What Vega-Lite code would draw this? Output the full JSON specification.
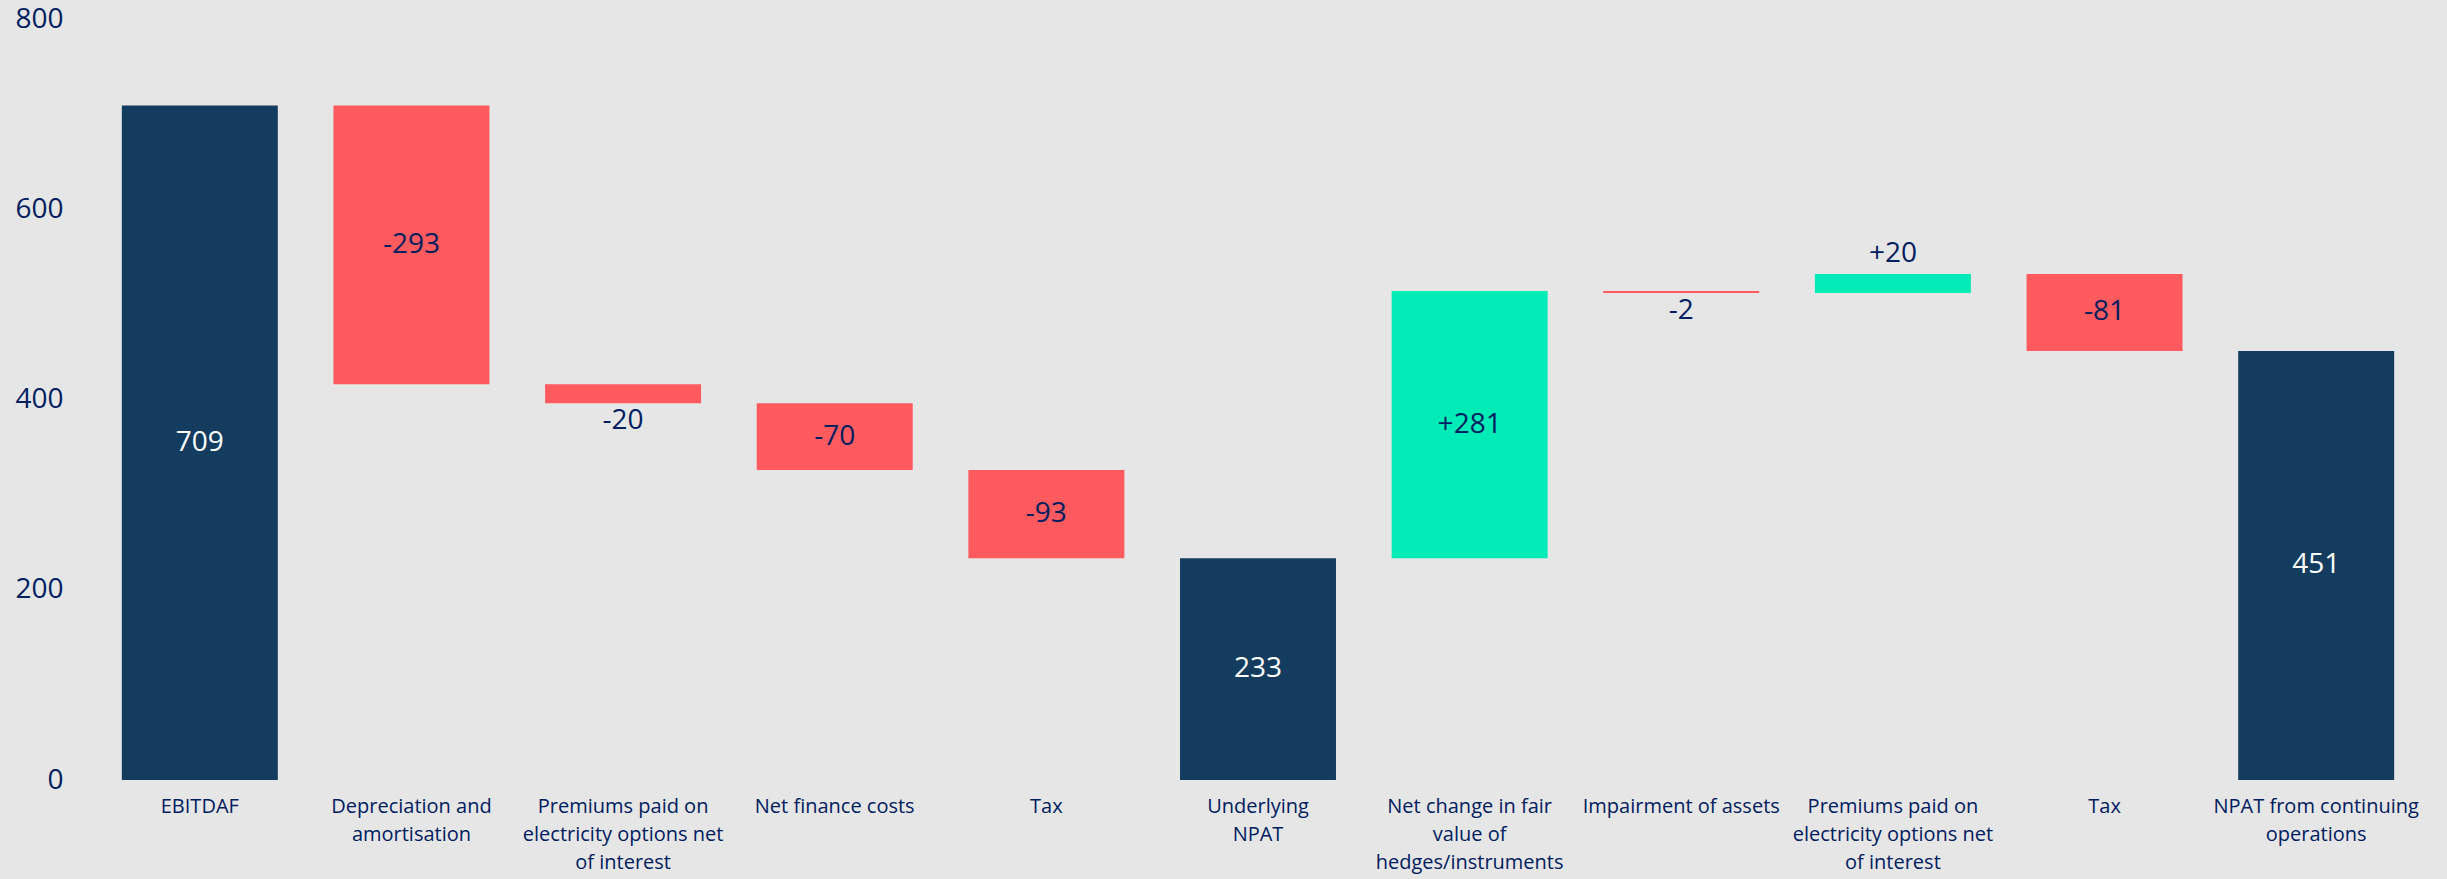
{
  "$schema": "https://vega.github.io/schema/vega-lite/v6.json",
  "autosize": "none",
  "width": 2328,
  "height": 761,
  "padding": {"left": 94, "top": 19, "right": 25, "bottom": 99},
  "background": "#e7e6e6",
  "config": {"view": {"stroke": null}},
  "data": {"values": [
    {"step": "EBITDAF", "start": 0, "end": 709, "kind": "total", "label": "709", "placement": "inside"},
    {"step": "Depreciation and|amortisation", "start": 709, "end": 416, "kind": "decrease", "label": "-293", "placement": "inside"},
    {"step": "Premiums paid on|electricity options net|of interest", "start": 416, "end": 396, "kind": "decrease", "label": "-20", "placement": "below"},
    {"step": "Net finance costs", "start": 396, "end": 326, "kind": "decrease", "label": "-70", "placement": "inside"},
    {"step": "Tax", "start": 326, "end": 233, "kind": "decrease", "label": "-93", "placement": "inside"},
    {"step": "Underlying|NPAT", "start": 0, "end": 233, "kind": "total", "label": "233", "placement": "inside"},
    {"step": "Net change in fair|value of|hedges/instruments", "start": 233, "end": 514, "kind": "increase", "label": "+281", "placement": "inside"},
    {"step": "Impairment of assets", "start": 514, "end": 512, "kind": "decrease", "label": "-2", "placement": "below"},
    {"step": "Premiums paid on|electricity options net|of interest|", "start": 512, "end": 532, "kind": "increase", "label": "+20", "placement": "above"},
    {"step": "Tax|", "start": 532, "end": 451, "kind": "decrease", "label": "-81", "placement": "inside"},
    {"step": "NPAT from continuing|operations", "start": 0, "end": 451, "kind": "total", "label": "451", "placement": "inside"}
  ]},
  "transform": [
    {"calculate": "(datum.start + datum.end) / 2", "as": "mid"},
    {"calculate": "min(datum.start, datum.end)", "as": "low"},
    {"calculate": "max(datum.start, datum.end)", "as": "high"}
  ],
  "encoding": {
    "x": {
      "field": "step", "type": "nominal", "sort": null,
      "scale": {"paddingInner": 0.263, "paddingOuter": 0.1315},
      "axis": {
        "title": null, "labelAngle": 0, "domain": false, "ticks": false,
        "labelExpr": "split(datum.value, '|')",
        "labelFont": "Open Sans", "labelFontSize": 20, "labelColor": "#002060",
        "labelLineHeight": 28, "labelPadding": 16, "labelBaseline": "top", "labelLimit": 0
      }
    }
  },
  "layer": [
    {
      "mark": {"type": "bar"},
      "encoding": {
        "y": {
          "field": "start", "type": "quantitative",
          "scale": {"domain": [0, 800], "nice": false},
          "axis": {
            "title": null, "values": [0, 200, 400, 600, 800], "grid": false, "domain": false, "ticks": false,
            "labelFont": "Open Sans", "labelFontSize": 28, "labelColor": "#002060", "labelPadding": 31
          }
        },
        "y2": {"field": "end"},
        "color": {
          "field": "kind", "type": "nominal", "legend": null,
          "scale": {"domain": ["total", "decrease", "increase"], "range": ["#143c5e", "#ff5a5e", "#00ebb5"]}
        }
      }
    },
    {
      "transform": [{"filter": "datum.placement == 'inside'"}],
      "mark": {"type": "text", "font": "Open Sans", "fontSize": 28, "baseline": "middle", "align": "center"},
      "encoding": {
        "y": {"field": "mid", "type": "quantitative"},
        "text": {"field": "label"},
        "color": {
          "field": "kind", "type": "nominal", "legend": null,
          "scale": {"domain": ["total", "decrease", "increase"], "range": ["#ffffff", "#002060", "#002060"]}
        }
      }
    },
    {
      "transform": [{"filter": "datum.placement == 'below'"}],
      "mark": {"type": "text", "font": "Open Sans", "fontSize": 28, "baseline": "middle", "align": "center", "dy": 18, "color": "#002060"},
      "encoding": {
        "y": {"field": "low", "type": "quantitative"},
        "text": {"field": "label"}
      }
    },
    {
      "transform": [{"filter": "datum.placement == 'above'"}],
      "mark": {"type": "text", "font": "Open Sans", "fontSize": 28, "baseline": "middle", "align": "center", "dy": -20, "color": "#002060"},
      "encoding": {
        "y": {"field": "high", "type": "quantitative"},
        "text": {"field": "label"}
      }
    }
  ],
  "resolve": {"scale": {"color": "independent"}}
}
